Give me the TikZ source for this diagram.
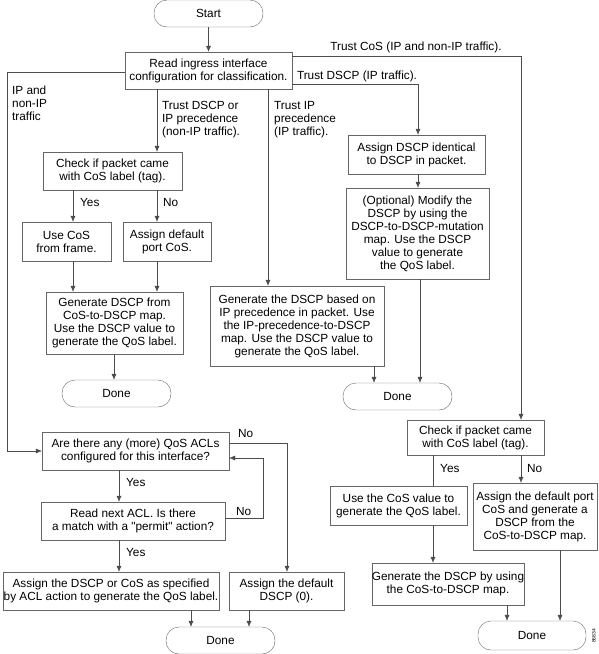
\documentclass[tikz,border=0pt]{standalone}
\usepackage{fontspec}
\setmainfont{Liberation Sans}[Ligatures=TeXOff]
\usetikzlibrary{arrows.meta}

\begin{document}
\begin{tikzpicture}[x=1pt,y=-1pt,
    font=\fontsize{11.8}{13}\selectfont,
    box/.style={draw=black!60, align=center, inner sep=0pt},
    term/.style={box, rounded corners=13pt, minimum width=109pt, minimum height=27pt},
    arr/.style={draw=black!70, -{Latex[length=6pt,width=5pt]}},
    wire/.style={draw=black!70},
    lbl/.style={inner sep=0pt, align=left}]
    \useasboundingbox (0,0) rectangle (599,654);

    % Start and the interface configuration
    \node[term] (start) at (208.5,13.5) {Start};
    \node[box, minimum width=167pt, minimum height=37pt] (read) at (208.5,70.5)
        {Read ingress interface\\configuration for classification.};
    \draw[arr] (start) -- (read);

    % Trust DSCP or IP precedence (non-IP traffic)
    \node[box, minimum width=139pt, minimum height=38pt] (check1) at (112.5,171)
        {Check if packet came\\with CoS label (tag).};
    \node[box, minimum width=89pt, minimum height=39pt] (usecos) at (66.5,241.5)
        {Use CoS\\from frame.};
    \node[box, minimum width=88pt, minimum height=39pt] (assigndef) at (167,241.5)
        {Assign default\\port CoS.};
    \node[box, minimum width=137pt, minimum height=62pt] (gen1) at (114.5,323)
        {Generate DSCP from\\CoS-to-DSCP map.\\Use the DSCP value to\\generate the QoS label.};
    \node[term] (done1) at (116.5,393.5) {Done};

    \draw[arr] (read.south -| 157,0) -- (check1.north -| 157,0);
    \node[lbl, anchor=west] at (162,120) {Trust DSCP or\\IP precedence\\(non-IP traffic).};
    \draw[arr] (check1.south -| 73,0) -- (usecos.north -| 73,0);
    \node[lbl, anchor=west] at (80,202) {Yes};
    \draw[arr] (check1.south -| 157,0) -- (assigndef.north -| 157,0);
    \node[lbl, anchor=west] at (163,202) {No};
    \draw[arr] (usecos.south -| 73,0) -- (gen1.north -| 73,0);
    \draw[arr] (assigndef.south -| 157,0) -- (gen1.north -| 157,0);
    \draw[arr] (gen1.south -| 114,0) -- (done1.north -| 114,0);

    % Trust IP precedence and trust DSCP (IP traffic)
    \node[box, minimum width=174pt, minimum height=80pt] (genip) at (297,326)
        {Generate the DSCP based on\\IP precedence in packet. Use\\the IP-precedence-to-DSCP\\map. Use the DSCP value to\\generate the QoS label.};
    \node[box, minimum width=137pt, minimum height=39pt] (ident) at (416.5,154.5)
        {Assign DSCP identical\\to DSCP in packet.};
    \node[box, minimum width=143pt, minimum height=91pt] (optional) at (417.5,233.5)
        {(Optional) Modify the\\DSCP by using the\\DSCP-to-DSCP-mutation\\map. Use the DSCP\\value to generate\\the QoS label.};
    \node[term] (done2) at (397.5,396.5) {Done};

    \draw[arr] (read.south -| 268,0) -- (genip.north -| 268,0);
    \node[lbl, anchor=west] at (274,120) {Trust IP\\precedence\\(IP traffic).};
    \coordinate (dscpturn) at (418,84);
    \draw[arr] (read.east |- dscpturn) -- (dscpturn) -- (ident.north -| dscpturn);
    \node[lbl] at (357,76) {Trust DSCP (IP traffic).};
    \draw[arr] (ident.south -| 418,0) -- (optional.north -| 418,0);
    \draw[arr] (optional.south -| 420,0) -- (done2.north -| 420,0);
    \draw[arr] (genip.south -| 374,0) -- (done2.north -| 374,0);

    % Trust CoS (IP and non-IP traffic)
    \node[box, minimum width=137pt, minimum height=35pt] (check2) at (475.5,437.5)
        {Check if packet came\\with CoS label (tag).};
    \node[box, minimum width=137pt, minimum height=39pt] (usecosval) at (398.5,505.5)
        {Use the CoS value to\\generate the QoS label.};
    \node[box, minimum width=124pt, minimum height=67pt] (assignport) at (535,516.5)
        {Assign the default port\\CoS and generate a\\DSCP from the\\CoS-to-DSCP map.};
    \node[box, minimum width=134pt, minimum height=42pt] (gendscp) at (448,584)
        {Generate the DSCP by using\\the CoS-to-DSCP map.};
    \node[term, minimum width=108pt, minimum height=29pt] (done3) at (532,635.5) {Done};

    \coordinate (costurn) at (521,56);
    \draw[arr] (read.east |- costurn) -- (costurn) -- (check2.north -| costurn);
    \node[lbl] at (416,47) {Trust CoS (IP and non-IP traffic).};
    \draw[wire] (check2.south -| 433,0) -- (usecosval.north -| 433,0);
    \node[lbl, anchor=west] at (440,468) {Yes};
    \draw[arr] (check2.south -| 521,0) -- (assignport.north -| 521,0);
    \node[lbl, anchor=west] at (527,468) {No};
    \draw[arr] (usecosval.south -| 433,0) -- (gendscp.north -| 433,0);
    \draw[arr] (gendscp.south -| 507,0) -- (done3.north -| 507,0);
    \draw[arr] (assignport.south -| 560,0) -- (done3.north -| 560,0);

    % QoS ACLs (IP and non-IP traffic)
    \node[box, minimum width=187pt, minimum height=38pt] (acls) at (135.5,451)
        {Are there any (more) QoS ACLs\\configured for this interface?};
    \node[box, minimum width=184pt, minimum height=38pt] (readacl) at (133,521)
        {Read next ACL. Is there\\a match with a "permit" action?};
    \node[box, minimum width=216pt, minimum height=38pt] (assignacl) at (111,591)
        {Assign the DSCP or CoS as specified\\by ACL action to generate the QoS label.};
    \node[box, minimum width=115pt, minimum height=38pt] (assigndscp0) at (286.5,591)
        {Assign the default\\DSCP (0).};
    \node[term] (done4) at (220.5,640.5) {Done};

    \coordinate (ipturn) at (7,72);
    \draw[arr] (read.west |- ipturn) -- (ipturn) -- (ipturn |- acls.west) -- (acls.west);
    \node[lbl, anchor=west] at (12,103) {IP and\\non-IP\\traffic};
    \draw[arr] (acls.south -| 119,0) -- (readacl.north -| 119,0);
    \node[lbl, anchor=west] at (126,482) {Yes};
    \draw[arr] (readacl.south -| 119,0) -- (assignacl.north -| 119,0);
    \node[lbl, anchor=west] at (126,552) {Yes};
    \coordinate (noturn) at (287,443);
    \draw[arr] (acls.east |- noturn) -- (noturn) -- (assigndscp0.north -| noturn);
    \node[lbl, anchor=west] at (238,433) {No};
    \coordinate (loopturn) at (263,518);
    \draw[arr] (readacl.east |- loopturn) -- (loopturn) -- (loopturn |- 0,458) -- (acls.east |- 0,458);
    \node[lbl, anchor=west] at (236,511) {No};
    \draw[arr] (assignacl.south -| 191,0) -- (done4.north -| 191,0);
    \draw[arr] (assigndscp0.south -| 249,0) -- (done4.north -| 249,0);

    % figure number
    \node[inner sep=0pt, rotate=90, font=\fontsize{5}{6}\selectfont] (fignum) at (594,636) {86834};
\end{tikzpicture}
\end{document}
